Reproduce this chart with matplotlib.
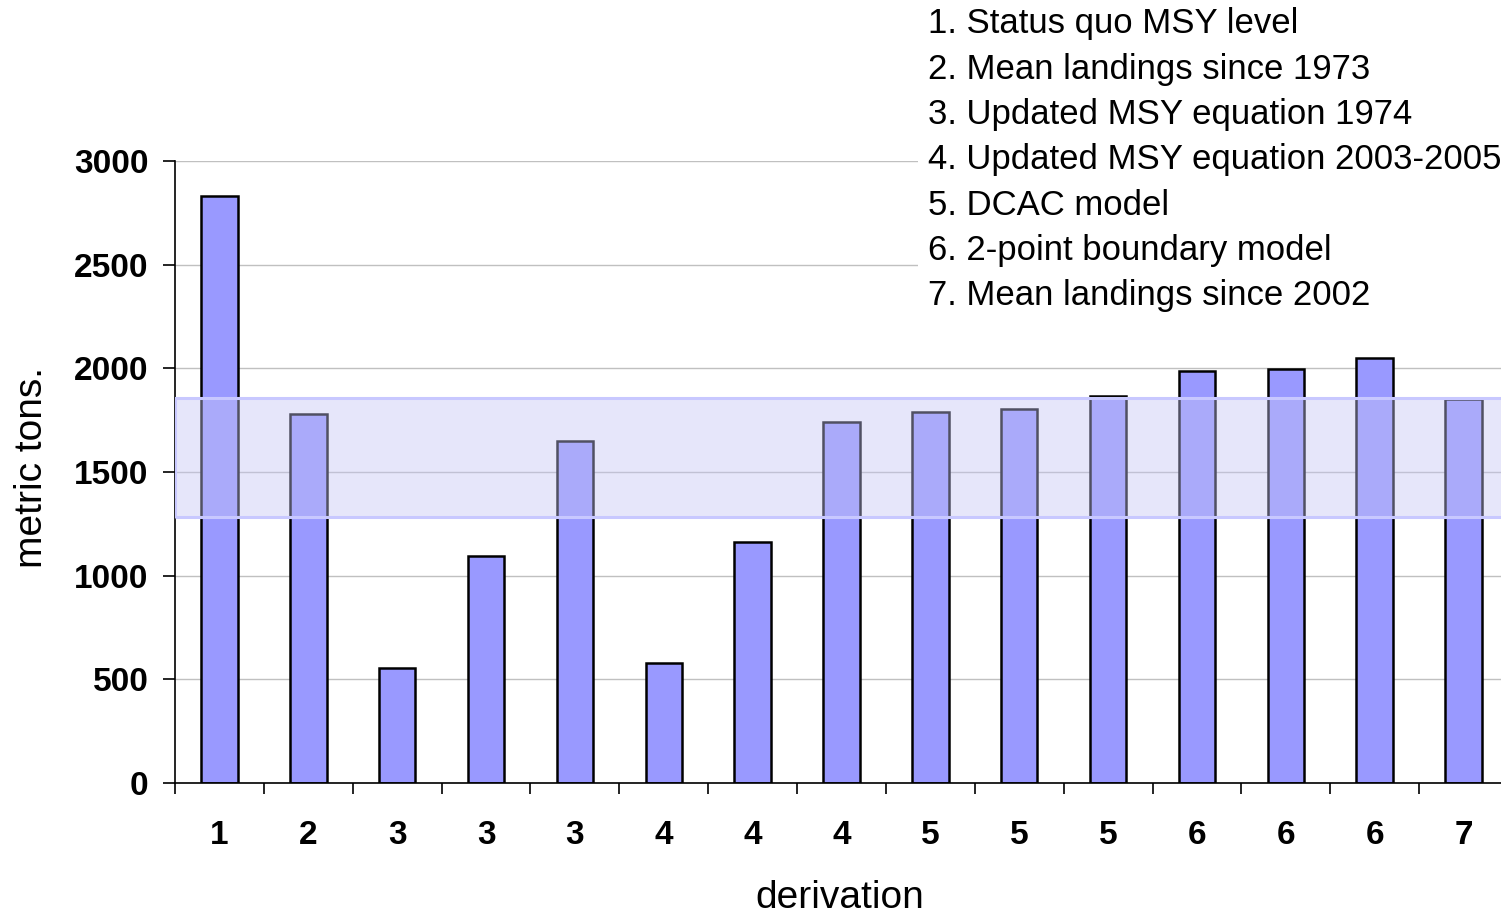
import numpy as np
import matplotlib.pyplot as plt
from matplotlib.patches import Rectangle

# ── data ─────────────────────────────────────────────────────────────────────
derivation = ["1", "2", "3", "3", "3", "4", "4", "4", "5", "5", "5", "6", "6", "6", "7"]
metric_tons = [2830, 1780, 555, 1095, 1650, 580, 1160, 1740, 1790, 1805, 1865, 1985, 1995, 2050, 1850]
band_low, band_high = 1283, 1857
legend_lines = [
    "1. Status quo MSY level",
    "2. Mean landings since 1973",
    "3. Updated MSY equation 1974",
    "4. Updated MSY equation 2003-2005",
    "5. DCAC model",
    "6. 2-point boundary model",
    "7. Mean landings since 2002",
]

plt.rcParams["font.family"] = ["Liberation Sans", "DejaVu Sans"]

W, H = 1501, 914
fig = plt.figure(figsize=(W / 100, H / 100), dpi=100)
ax = fig.add_axes([175 / W, 1 - 783 / H, 1333 / W, (783 - 161) / H])

x = np.arange(len(metric_tons))
ax.bar(x, metric_tons, width=0.41, color="#9999ff", edgecolor="black", linewidth=1.8, zorder=2)

# shaded range
ax.add_patch(Rectangle((-0.5, band_low), len(x), band_high - band_low,
                       facecolor=(195 / 255, 195 / 255, 243 / 255), alpha=0.41,
                       edgecolor="none", zorder=3))
ax.add_patch(Rectangle((-0.5, band_low), len(x), band_high - band_low,
                       facecolor="none", edgecolor="#c8c8ff", linewidth=2.2, zorder=4))

ax.set_xlim(-0.5, len(x) - 0.5)
ax.set_ylim(0, 3000)
ax.set_yticks(range(0, 3001, 500))
ax.yaxis.grid(True, color="#c0c0c0", linewidth=1, zorder=0)
ax.set_axisbelow(True)

ax.set_xticks(x)
ax.set_xticklabels(derivation, fontsize=24, fontweight="bold")
ax.set_xticks(np.arange(-0.5, len(x), 1), minor=True)
ax.tick_params(axis="x", which="major", length=0, pad=27)
ax.tick_params(axis="x", which="minor", length=8, width=1.2, direction="out")
ax.tick_params(axis="y", length=9, width=1.2, direction="out", pad=10)
for lab in ax.get_yticklabels():
    lab.set_fontsize(24)
    lab.set_fontweight("bold")

for s in ["top", "right"]:
    ax.spines[s].set_visible(False)
for s in ["left", "bottom"]:
    ax.spines[s].set_linewidth(1.2)

fig.text(32 / W, 1 - 468 / H, "metric tons.", rotation=90, fontsize=28,
         ha="center", va="center")
fig.text(840 / W, 1 - 898 / H, "derivation", fontsize=28, ha="center", va="center")

# legend box
fig.patches.append(Rectangle((918 / W, 1 - 312 / H), (W - 918) / W, 312 / H,
                             transform=fig.transFigure, facecolor="white",
                             edgecolor="none", zorder=5))
for i, line in enumerate(legend_lines):
    fig.text(928 / W, 1 - (24 + 45.3 * i) / H, line, fontsize=25,
             ha="left", va="center", zorder=6)

fig.savefig("out.png", dpi=100)
